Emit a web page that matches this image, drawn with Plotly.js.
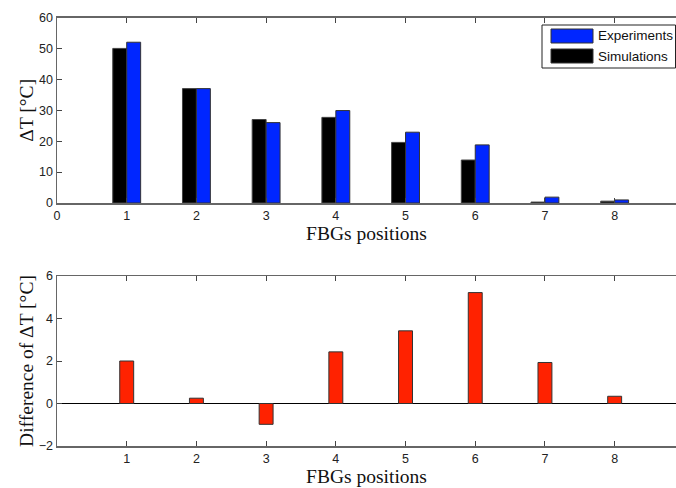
<!DOCTYPE html>
<html><head><meta charset="utf-8">
<script src="https://cdn.plot.ly/plotly-3.0.1.min.js"></script>
<style>html,body{margin:0;padding:0;background:#fff}#chart{width:676px;height:488px}</style>
</head><body><div id="chart"></div>
<script>
const positions = [1,2,3,4,5,6,7,8];
const simulations = [50, 37, 27, 27.7, 19.6, 13.9, 0.3, 0.6];
const experiments = [52, 37, 26, 29.9, 22.9, 18.8, 1.9, 1.0];
const difference = [2.0, 0.25, -0.98, 2.43, 3.42, 5.22, 1.93, 0.34];
const topTicks = [0,1,2,3,4,5,6,7,8];
const bottomTicks = [1,2,3,4,5,6,7,8];
const seriesNames = ["Simulations", "Experiments"];
const seriesColors = ["#000000", "#0026ff"];

const W = 676, H = 488;
const tickFont = {family: "Liberation Sans, Arial, sans-serif", size: 12.5, color: "#222"};
const titleFont = {family: "Liberation Serif, Times New Roman, serif", size: 19.5, color: "#111"};
const axisCommon = {
  showgrid: false, showline: true, linecolor: "#666", linewidth: 1.5,
  ticks: "inside", ticklen: 5, tickcolor: "#444", tickwidth: 1,
  tickfont: tickFont, fixedrange: true
};

const traces = [
  {type: "bar", x: positions, y: simulations, name: seriesNames[0], offset: -0.2, width: 0.2,
   marker: {color: seriesColors[0], line: {color: "#444", width: 1}}, xaxis: "x", yaxis: "y", showlegend: false},
  {type: "bar", x: positions, y: experiments, name: seriesNames[1], offset: 0, width: 0.2,
   marker: {color: seriesColors[1], line: {color: "#333", width: 1}}, xaxis: "x", yaxis: "y", showlegend: false},
  {type: "bar", x: positions, y: difference, name: "Difference", width: 0.2, showlegend: false,
   marker: {color: "#ff2200", line: {color: "#333", width: 1}}, xaxis: "x2", yaxis: "y2"}
];

// legend box (drawn in paper coordinates): Experiments first, then Simulations
const px = v => v / W, py = v => 1 - v / H;
const legendOrder = [1, 0];
const shapes = [
  {type: "rect", xref: "paper", yref: "paper", x0: px(542), x1: px(675.5), y0: py(68), y1: py(25),
   fillcolor: "#fff", line: {color: "#222", width: 1}, layer: "above"}
];
const annotations = [];
legendOrder.forEach((k, i) => {
  const top = 29 + i * 20;
  shapes.push({type: "rect", xref: "paper", yref: "paper", x0: px(551), x1: px(593),
    y0: py(top + 14), y1: py(top), fillcolor: seriesColors[k], line: {color: "#333", width: 1}, layer: "above"});
  annotations.push({xref: "paper", yref: "paper", x: px(596), y: py(top + 7), xanchor: "left", yanchor: "middle",
    text: seriesNames[k], showarrow: false,
    font: {family: "Liberation Sans, Arial, sans-serif", size: 13.5, color: "#111"}});
});

const layout = {
  width: W, height: H,
  margin: {l: 0, r: 0, t: 0, b: 0},
  paper_bgcolor: "#fff", plot_bgcolor: "#fff",
  barmode: "overlay",
  showlegend: false,
  shapes: shapes,
  annotations: annotations,
  xaxis: Object.assign({}, axisCommon, {
    mirror: "ticks",
    domain: [57/W, 1], range: [0, 8.88], tickvals: topTicks, ticktext: topTicks.map(String),
    anchor: "y", zeroline: false,
    title: {text: "FBGs positions", font: titleFont, standoff: 5}
  }),
  yaxis: Object.assign({}, axisCommon, {
    domain: [1 - 203/H, 1 - 17.5/H], range: [0, 60], dtick: 10, zeroline: false, anchor: "x",
    title: {text: "ΔT [°C]", font: titleFont, standoff: 0}
  }),
  xaxis2: Object.assign({}, axisCommon, {
    mirror: "ticks",
    domain: [57/W, 1], range: [0, 8.88], tickvals: bottomTicks, ticktext: bottomTicks.map(String),
    anchor: "y2", zeroline: false,
    title: {text: "FBGs positions", font: titleFont, standoff: 5}
  }),
  yaxis2: Object.assign({}, axisCommon, {
    domain: [1 - 446/H, 1 - 276/H], range: [-2, 6], dtick: 2, anchor: "x2",
    zeroline: true, zerolinecolor: "#000", zerolinewidth: 1,
    title: {text: "Difference of ΔT [°C]", font: titleFont, standoff: 0}
  })
};

Plotly.newPlot("chart", traces, layout, {displayModeBar: false, staticPlot: true});
</script></body></html>
